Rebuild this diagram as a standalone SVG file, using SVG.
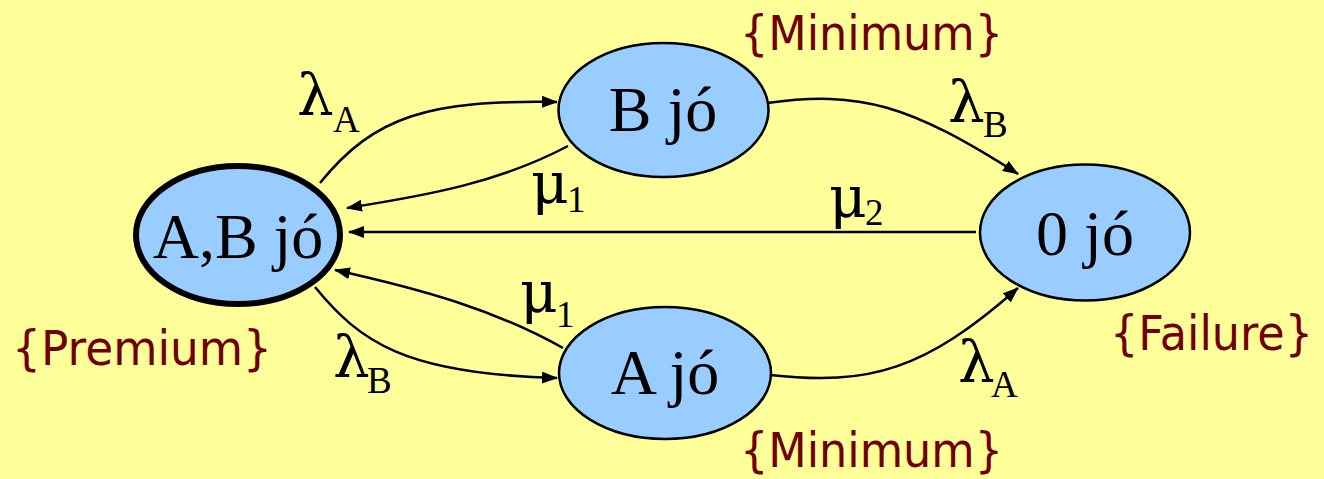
<svg xmlns="http://www.w3.org/2000/svg" width="1324" height="479" viewBox="0 0 1324 479">
<style>
.node{fill:#99CCFF;stroke:#000;stroke-width:2.5}
.start{stroke-width:6}
.lbl{font-family:"Liberation Serif","Times New Roman",serif;font-size:64px;fill:#000;text-anchor:middle}
.gr{font-family:"DejaVu Serif","Liberation Serif",serif;font-size:58px;fill:#000}
.sub{font-family:"Liberation Serif","Times New Roman",serif;font-size:37px}
.tag{font-family:"DejaVu Sans",Verdana,sans-serif;font-size:48px;fill:#700000}
.edge{fill:none;stroke:#000;stroke-width:2.5;marker-end:url(#ah)}
</style>
<defs>
<marker id="ah" viewBox="0 0 16 12" refX="15" refY="6" markerWidth="16" markerHeight="12" markerUnits="userSpaceOnUse" orient="auto">
<path d="M0,0 L16,6 L0,12 Z" fill="#000"/>
</marker>
</defs>
<rect width="1324" height="479" fill="#FFFF99"/>
<g id="connectors">
<path class="edge" d="M320,183 C375,115 430,100 557,102"/>
<path class="edge" d="M568,146 C500,182 430,195 347,208"/>
<path class="edge" d="M976,232 L349,232"/>
<path class="edge" d="M767,103 C860,90 910,105 1018,174"/>
<path class="edge" d="M563,348 C495,310 425,290 335,270"/>
<path class="edge" d="M315,287 C360,342 405,374 557,378"/>
<path class="edge" d="M770,375 C870,386 925,370 1018,288"/>
</g>
<g id="node-ab">
<ellipse class="node start" cx="238" cy="235" rx="102" ry="69"/>
<text class="lbl" x="238" y="258">A,B jó</text>
</g>
<g id="node-b">
<ellipse class="node" cx="663.5" cy="110" rx="105" ry="67"/>
<text class="lbl" x="663" y="131">B jó</text>
</g>
<g id="node-0">
<ellipse class="node" cx="1085" cy="232.5" rx="105" ry="68"/>
<text class="lbl" x="1085" y="255">0 jó</text>
</g>
<g id="node-a">
<ellipse class="node" cx="665" cy="373" rx="106" ry="66"/>
<text class="lbl" x="665" y="394">A jó</text>
</g>
<g id="edge-labels">
<text class="gr" x="297" y="115">λ<tspan class="sub" x="333" y="132">A</tspan></text>
<text class="gr" x="531" y="203">μ<tspan class="sub" x="567" y="212">1</tspan></text>
<text class="gr" x="829" y="217">μ<tspan class="sub" x="865" y="225">2</tspan></text>
<text class="gr" x="948" y="122">λ<tspan class="sub" x="983" y="137">B</tspan></text>
<text class="gr" x="520" y="312">μ<tspan class="sub" x="556" y="327">1</tspan></text>
<text class="gr" x="333" y="377">λ<tspan class="sub" x="367" y="393">B</tspan></text>
<text class="gr" x="958" y="382">λ<tspan class="sub" x="991" y="397">A</tspan></text>
</g>
<g id="tags">
<text class="tag" x="740" y="50" textLength="263" lengthAdjust="spacingAndGlyphs">{Minimum}</text>
<text class="tag" x="12" y="365" textLength="260" lengthAdjust="spacingAndGlyphs">{Premium}</text>
<text class="tag" x="1110" y="350" textLength="203" lengthAdjust="spacingAndGlyphs">{Failure}</text>
<text class="tag" x="740" y="467" textLength="263" lengthAdjust="spacingAndGlyphs">{Minimum}</text>
</g>
</svg>
